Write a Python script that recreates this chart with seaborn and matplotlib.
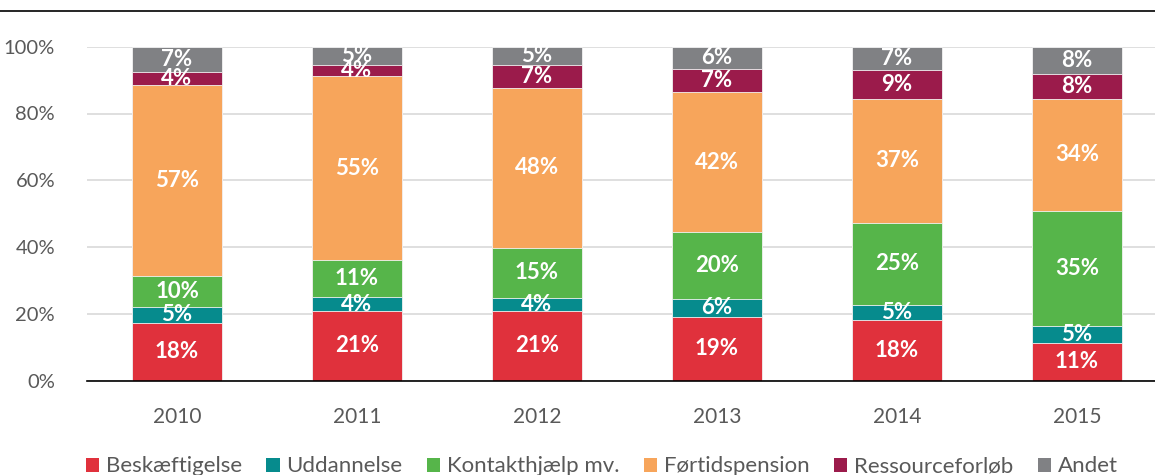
import matplotlib
matplotlib.use("Agg")
import matplotlib.pyplot as plt
import seaborn as sns
import pandas as pd
import numpy as np
from matplotlib.lines import Line2D
from matplotlib.patches import Patch

years = ["2010", "2011", "2012", "2013", "2014", "2015"]
series = ["Beskæftigelse", "Uddannelse", "Kontakthjælp mv.", "Førtidspension", "Ressourceforløb", "Andet"]
beskaeftigelse = [17.4, 20.8, 21.0, 19.1, 18.3, 11.2]
uddannelse = [4.6, 4.3, 3.9, 5.5, 4.5, 5.1]
kontakthjaelp = [9.4, 11.1, 14.9, 19.9, 24.5, 34.6]
foertidspension = [57.1, 54.9, 47.9, 41.8, 37.1, 33.5]
ressourceforloeb = [4.0, 3.5, 6.9, 7.1, 8.5, 7.5]
andet = [7.5, 5.4, 5.4, 6.6, 7.1, 8.1]

lbl_beskaeftigelse = ["18%", "21%", "21%", "19%", "18%", "11%"]
lbl_uddannelse = ["5%", "4%", "4%", "6%", "5%", "5%"]
lbl_kontakthjaelp = ["10%", "11%", "15%", "20%", "25%", "35%"]
lbl_foertidspension = ["57%", "55%", "48%", "42%", "37%", "34%"]
lbl_ressourceforloeb = ["4%", "4%", "7%", "7%", "9%", "8%"]
lbl_andet = ["7%", "5%", "5%", "6%", "7%", "8%"]

colors = ["#E0313C", "#068B8D", "#56B54A", "#F7A55B", "#9B1B4B", "#808184"]

values = [beskaeftigelse, uddannelse, kontakthjaelp, foertidspension, ressourceforloeb, andet]
labels = [lbl_beskaeftigelse, lbl_uddannelse, lbl_kontakthjaelp, lbl_foertidspension, lbl_ressourceforloeb, lbl_andet]

sns.set_theme(style="white")
plt.rcParams["font.family"] = ["Lato", "DejaVu Sans"]

fig = plt.figure(figsize=(11.55, 4.75), dpi=100)
ax = fig.add_axes([87/1155, 1 - 380.7/475, 1 - 87/1155, (380.7 - 46.7)/475])

vals = np.array(values)
cum = np.cumsum(vals, axis=0)

for i in reversed(range(len(series))):
    df = pd.DataFrame({"year": years, "value": cum[i] / 100.0})
    sns.barplot(data=df, x="year", y="value", color=colors[i], width=0.5,
                saturation=1, ax=ax, edgecolor="#f3f3f3", linewidth=0.6, zorder=3)

for i in range(len(series)):
    for j in range(len(years)):
        y = (cum[i][j] - vals[i][j] / 2) / 100.0
        ax.text(j, y, labels[i][j], ha="center", va="center", color="white",
                fontsize=16, fontweight="bold", zorder=5)

ax.set_ylim(0, 1)
ax.set_xlim(-0.5, 5.5 - 12/180)
ax.set_yticks([0, 0.2, 0.4, 0.6, 0.8, 1.0])
ax.set_yticklabels(["0%", "20%", "40%", "60%", "80%", "100%"])
ax.yaxis.grid(True, color="#D9D9D9", linewidth=1.2, zorder=0)
ax.set_axisbelow(True)
ax.set_xlabel("")
ax.set_ylabel("")
for s in ["left", "right", "top"]:
    ax.spines[s].set_visible(False)
ax.spines["bottom"].set_color("black")
ax.spines["bottom"].set_linewidth(1.2)
ax.spines["bottom"].set_zorder(6)
ax.tick_params(axis="y", length=0, pad=23, labelsize=14.5, labelcolor="#595959")
ax.tick_params(axis="x", length=0, pad=19, labelsize=15, labelcolor="#595959")

fig.add_artist(Line2D([0, 1], [1 - 11/475, 1 - 11/475], color="black", linewidth=1.2,
                      transform=fig.transFigure))

handles = [Patch(facecolor=c, edgecolor="none") for c in colors]
fig.legend(handles, series, loc="center", bbox_to_anchor=(0.521, 0.018), ncol=6,
           frameon=False, fontsize=16, labelcolor="#595959", handlelength=0.6,
           handleheight=0.6, handletextpad=0.3, columnspacing=1.1)

fig.savefig("out.png", dpi=100)
